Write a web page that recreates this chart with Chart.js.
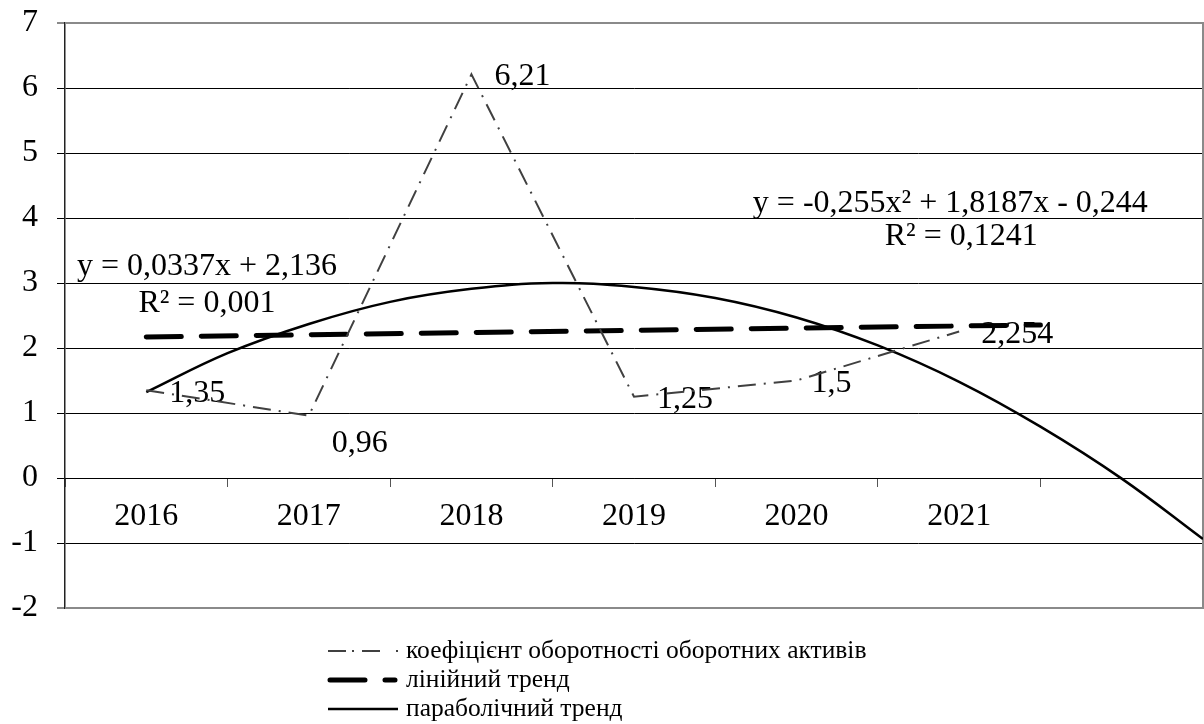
<!DOCTYPE html>
<html>
<head>
<meta charset="utf-8">
<script src="https://cdn.jsdelivr.net/npm/chart.js@4.4.1/dist/chart.umd.min.js"></script>
<style>
  body { margin: 0; background: #fff; }
  canvas { display: block; }
</style>
</head>
<body>
<canvas id="chart" width="1204" height="724"></canvas>
<script>
// дані
const years = ["2016", "2017", "2018", "2019", "2020", "2021"];
const turnover = [1.35, 0.96, 6.21, 1.25, 1.5, 2.254];
const turnoverLabels = ["1,35", "0,96", "6,21", "1,25", "1,5", "2,254"];

// лінійний тренд (кінці лінії, як на малюнку)
const linearX = [1, 6.5];
const linearY = [2.17, 2.355];

// параболічний тренд, зчитаний з малюнка через пів-періоду
const parabolaX = [1, 1.5, 2, 2.5, 3, 3.5, 4, 4.5, 5, 5.5, 6, 6.5, 7, 7.5];
const parabolaY = [1.32, 1.92, 2.37, 2.71, 2.91, 3.0, 2.94, 2.77, 2.47, 2.04, 1.48, 0.79, -0.01, -0.94];

const legendNames = [
  "коефіцієнт оборотності оборотних активів",
  "лінійний тренд",
  "параболічний тренд"
];
const linearEquation = ["y = 0,0337x + 2,136", "R² = 0,001"];
const parabolaEquation = ["y = -0,255x² + 1,8187x - 0,244", "R² = 0,1241"];

// зсуви підписів даних (px): ліворуч від точки, по вертикалі
const labelOffsets = [[23, 1], [23, 26], [23, 0], [23, 1], [15, 1], [22, 1]];

const FONT = "'Liberation Serif', 'Times New Roman', serif";

const chartPlugin = {
  id: "extras",
  beforeDatasetsDraw(chart) {
    const ctx = chart.ctx;
    const xs = chart.scales.x;
    const ys = chart.scales.y;
    const a = chart.chartArea;

    // рамка області побудови
    ctx.save();
    ctx.strokeStyle = "#8a8a8a";
    ctx.lineWidth = 2;
    ctx.beginPath();
    ctx.moveTo(a.left, a.top);
    ctx.lineTo(a.right, a.top);
    ctx.lineTo(a.right, a.bottom);
    ctx.lineTo(a.left, a.bottom);
    ctx.stroke();

    // підписи даних
    ctx.fillStyle = "#000";
    ctx.font = "32px " + FONT;
    ctx.textBaseline = "alphabetic";
    ctx.textAlign = "left";
    turnover.forEach((v, i) => {
      const px = xs.getPixelForValue(i + 1);
      const py = ys.getPixelForValue(v);
      ctx.fillText(turnoverLabels[i], px + labelOffsets[i][0], py + labelOffsets[i][1] + 10.5);
    });

    // рівняння трендів
    ctx.textAlign = "center";
    ctx.fillText(linearEquation[0], xs.getPixelForValue(1.373), ys.getPixelForValue(3.125));
    ctx.fillText(linearEquation[1], xs.getPixelForValue(1.373), ys.getPixelForValue(2.555));
    ctx.fillText(parabolaEquation[0], xs.getPixelForValue(5.946), ys.getPixelForValue(4.092));
    ctx.fillText(parabolaEquation[1], xs.getPixelForValue(6.013), ys.getPixelForValue(3.585));
    ctx.restore();
  },
  afterDraw(chart) {
    const ctx = chart.ctx;
    const rows = [651, 680, 709];
    ctx.save();
    chart.data.datasets.forEach((ds, i) => {
      ctx.strokeStyle = ds.borderColor;
      ctx.lineWidth = ds.borderWidth;
      ctx.lineCap = ds.borderCapStyle || "butt";
      ctx.setLineDash(ds.legendDash || ds.borderDash || []);
      ctx.beginPath();
      ctx.moveTo(ds.legendStart, rows[i]);
      ctx.lineTo(ds.legendEnd, rows[i]);
      ctx.stroke();
      ctx.setLineDash([]);
      ctx.fillStyle = "#000";
      ctx.font = "25.5px " + FONT;
      ctx.textBaseline = "alphabetic";
      ctx.textAlign = "left";
      ctx.fillText(legendNames[i], 406, rows[i] + 7);
    });
    ctx.restore();
  }
};

new Chart(document.getElementById("chart"), {
  type: "line",
  data: {
    datasets: [
      {
        label: legendNames[0],
        data: turnover.map((v, i) => ({ x: i + 1, y: v })),
        borderColor: "#404040",
        borderWidth: 2,
        borderDash: [18, 8, 2, 8],
        legendDash: [18, 6, 2, 8, 18, 16, 2, 50],
        legendStart: 328,
        legendEnd: 400,
        tension: 0,
        pointRadius: 0
      },
      {
        label: legendNames[1],
        data: linearX.map((x, i) => ({ x: x, y: linearY[i] })),
        borderColor: "#000",
        borderWidth: 5,
        borderDash: [35, 20],
        borderCapStyle: "round",
        legendDash: [35, 20, 10, 100],
        legendStart: 330,
        legendEnd: 396,
        pointRadius: 0
      },
      {
        label: legendNames[2],
        data: parabolaX.map((x, i) => ({ x: x, y: parabolaY[i] })),
        borderColor: "#000",
        borderWidth: 2.5,
        tension: 0.4,
        legendStart: 328,
        legendEnd: 398,
        pointRadius: 0
      }
    ]
  },
  options: {
    responsive: false,
    animation: false,
    events: [],
    layout: { padding: { left: 0, top: 23, right: 1, bottom: 116 } },
    plugins: {
      legend: { display: false },
      tooltip: { enabled: false }
    },
    scales: {
      x: {
        type: "linear",
        min: 0.5,
        max: 7.5,
        position: { y: 0 },
        afterBuildTicks: (scale) => {
          scale.ticks = [1, 2, 3, 4, 5, 6, 7].map((v) => ({ value: v }));
        },
        ticks: {
          autoSkip: false,
          maxRotation: 0,
          padding: 11,
          color: "#000",
          font: { family: FONT, size: 32 },
          callback: (v) => years[v - 1] || ""
        },
        grid: {
          offset: true,
          drawOnChartArea: false,
          tickLength: 8,
          color: "#555"
        },
        border: { color: "#000", width: 1 }
      },
      y: {
        min: -2,
        max: 7,
        afterFit: (scale) => {
          scale.width = 65;
          scale.paddingTop = 0;
          scale.paddingBottom = 0;
        },
        ticks: {
          stepSize: 1,
          padding: 19,
          color: "#000",
          font: { family: FONT, size: 32 }
        },
        grid: {
          color: (c) => (c.tick && (c.tick.value === 7 || c.tick.value === -2)) ? "#8a8a8a" : "#000",
          lineWidth: (c) => (c.tick && (c.tick.value === 7 || c.tick.value === -2)) ? 2 : 1,
          tickLength: 8
        },
        border: { color: "#222", width: 1.5 }
      }
    }
  },
  plugins: [chartPlugin]
});
</script>
</body>
</html>
